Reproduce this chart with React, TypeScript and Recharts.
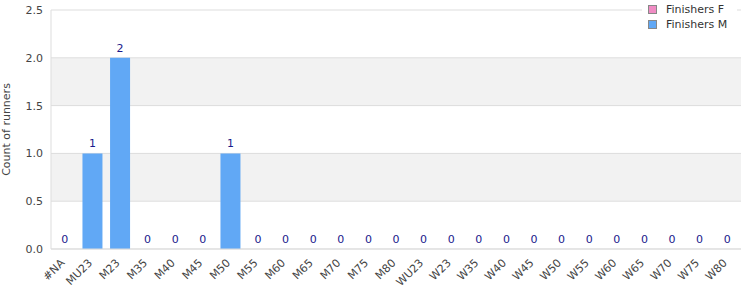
import React from 'react';
import { ComposedChart, Bar, Line, XAxis, YAxis, CartesianGrid, LabelList } from 'recharts';

const categories = ['#NA', 'MU23', 'M23', 'M35', 'M40', 'M45', 'M50', 'M55', 'M60', 'M65', 'M70', 'M75', 'M80',
  'WU23', 'W23', 'W35', 'W40', 'W45', 'W50', 'W55', 'W60', 'W65', 'W70', 'W75', 'W80'];
const finishersF = [0, 0, 0, 0, 0, 0, 0, 0, 0, 0, 0, 0, 0, 0, 0, 0, 0, 0, 0, 0, 0, 0, 0, 0, 0];
const finishersM = [0, 1, 2, 0, 0, 0, 1, 0, 0, 0, 0, 0, 0, 0, 0, 0, 0, 0, 0, 0, 0, 0, 0, 0, 0];
const yTicks = [0, 0.5, 1, 1.5, 2, 2.5];

const data = categories.map((name, i) => ({
  name,
  F: finishersF[i],
  M: finishersM[i],
  total: finishersF[i] + finishersM[i],
}));

const font = 'DejaVu Sans, Verdana, sans-serif';

const legendItems = [
  { label: 'Finishers F', color: '#f08cc4' },
  { label: 'Finishers M', color: '#61a8f5' },
];

const LegendBox = () => (
  <div style={{ position: 'absolute', top: 2, left: 642, background: '#fff', padding: '0 10px 2px 6px',
    fontFamily: font, fontSize: 11, color: '#333' }}>
    {legendItems.map((it) => (
      <div key={it.label} style={{ display: 'flex', alignItems: 'center', height: 15 }}>
        <span style={{ display: 'inline-block', width: 7, height: 7, background: it.color, border: '1px solid #888', marginRight: 9 }} />
        {it.label}
      </div>
    ))}
  </div>
);

const XTick = (props: any) => {
  const { x, y, payload } = props;
  const tx = x - 2;
  const ty = y + 4;
  return (
    <text x={tx} y={ty} transform={`rotate(-45, ${tx}, ${ty})`} textAnchor="end" dominantBaseline="central"
      fontSize={11} fontFamily={font} fill="#444">
      {payload.value}
    </text>
  );
};

export default function App() {
  return (
    <div style={{ position: 'absolute', left: 0, top: 0, width: 750, height: 300 }}>
      <ComposedChart width={750} height={300} data={data} barCategoryGap="14%"
        margin={{ top: 10, right: 9, left: 0, bottom: 0 }}>
        <CartesianGrid vertical={false} stroke="#dddddd" horizontalFill={['#ffffff', '#f2f2f2']} />
        <XAxis dataKey="name" interval={0} tick={<XTick />} tickLine={false} height={51}
          axisLine={{ stroke: '#dddddd' }} />
        <YAxis width={51} domain={[0, 2.5]} ticks={yTicks} tickFormatter={(v: number) => v.toFixed(1)}
          tickLine={false} axisLine={{ stroke: '#dddddd' }}
          tick={{ fontSize: 11, fontFamily: font, fill: '#444' }}
          label={{ value: 'Count of runners', angle: -90, position: 'insideLeft', offset: 6,
            style: { textAnchor: 'middle', fontSize: 11, fontFamily: font, fill: '#444' } }} />
        <YAxis yAxisId="frame" orientation="right" width={0} tick={false} tickLine={false}
          axisLine={{ stroke: '#dddddd' }} />
        <Bar dataKey="F" stackId="a" fill="#f08cc4" isAnimationActive={false} />
        <Bar dataKey="M" stackId="a" fill="#61a8f5" isAnimationActive={false} />
        <Line dataKey="total" stroke="none" dot={false} activeDot={false} isAnimationActive={false}>
          <LabelList dataKey="total" position="top" offset={6} fill="#1a1a8c" stroke="none"
            fontSize={11} fontFamily={font} />
        </Line>
      </ComposedChart>
      <LegendBox />
    </div>
  );
}
